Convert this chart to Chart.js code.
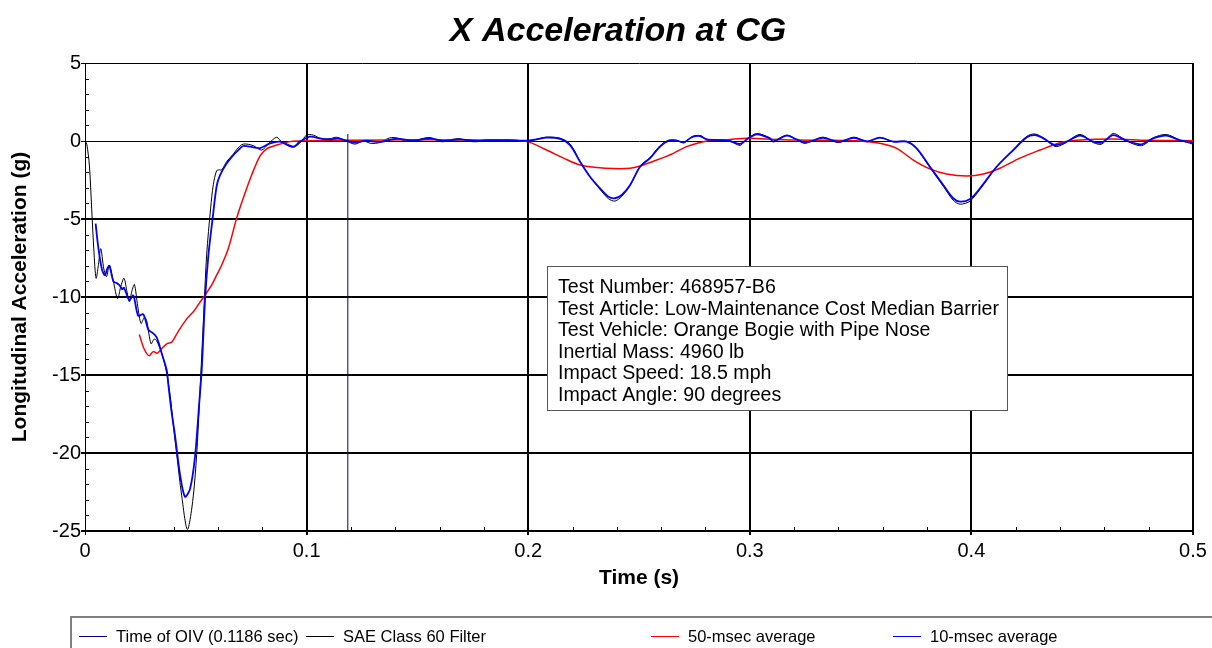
<!DOCTYPE html>
<html>
<head>
<meta charset="utf-8">
<script src="https://cdn.jsdelivr.net/npm/chart.js@4"></script>
<style>
  html, body { margin: 0; padding: 0; background: #fff; }
  #wrap { width: 1212px; height: 648px; }
</style>
</head>
<body>
<div id="wrap"><canvas id="accelChart"></canvas></div>
<script>
const chartTitle = 'X Acceleration at CG';
const xTitle = 'Time (s)';
const yTitle = 'Longitudinal Acceleration (g)';

const seriesLabels = ['Time of OIV (0.1186 sec)', 'SAE Class 60 Filter', '50-msec average', '10-msec average'];

const infoLines = [
    'Test Number: 468957-B6',
    'Test Article: Low-Maintenance Cost Median Barrier',
    'Test Vehicle: Orange Bogie with Pipe Nose',
    'Inertial Mass: 4960 lb',
    'Impact Speed: 18.5 mph',
    'Impact Angle: 90 degrees'
];

// vertical marker for time of OIV
const oivTime = [0.1186, 0.1186];
const oivAccel = [-25, 0.45];

// SAE class 60 filtered signal
const sae60Time = [0, 0.0008, 0.002, 0.003, 0.004, 0.005, 0.006, 0.0071, 0.0085, 0.0097, 0.011, 0.0128, 0.0147,
    0.0162, 0.0176, 0.019, 0.02, 0.0212, 0.0223, 0.0238, 0.0253, 0.0268, 0.0278, 0.0298, 0.0312, 0.0323, 0.0346,
    0.0366, 0.0384, 0.04, 0.0414, 0.0436, 0.0462, 0.0486, 0.0504, 0.0516, 0.0534, 0.0549, 0.0567, 0.0579, 0.0594,
    0.0605, 0.0617, 0.064, 0.0669, 0.0684, 0.0714, 0.076, 0.0797, 0.083, 0.0865, 0.089, 0.094, 0.0975, 0.1, 0.103,
    0.1065, 0.1106, 0.1136, 0.118, 0.1218, 0.1255, 0.129, 0.133, 0.1375, 0.1406, 0.1445, 0.148, 0.152, 0.1557,
    0.1595, 0.1617, 0.1655, 0.169, 0.173, 0.1768, 0.181, 0.185, 0.19, 0.195, 0.1993, 0.2038, 0.2083, 0.2144, 0.2189,
    0.2234, 0.2279, 0.2324, 0.2362, 0.2392, 0.2422, 0.246, 0.2505, 0.255, 0.2595, 0.2632, 0.267, 0.2703, 0.2738,
    0.2775, 0.2806, 0.2866, 0.291, 0.2956, 0.2986, 0.3031, 0.3091, 0.3106, 0.3167, 0.3212, 0.325, 0.333, 0.34,
    0.347, 0.353, 0.3587, 0.3648, 0.3708, 0.3753, 0.3813, 0.3873, 0.3918, 0.3949, 0.3994, 0.4039, 0.4114, 0.4189,
    0.425, 0.4287, 0.4325, 0.4377, 0.4415, 0.449, 0.455, 0.4588, 0.464, 0.47, 0.4768, 0.482, 0.488, 0.494, 0.5];
const sae60Accel = [0, -0.2, -1.6, -4.3, -7.0, -8.8, -8.0, -6.9, -8.2, -8.7, -7.95, -9.0, -10.1,
    -9.3, -8.8, -9.7, -10.3, -9.6, -9.2, -10.6, -11.7, -11.3, -11.5, -13.0, -12.7, -12.8, -13.6,
    -14.7, -16.3, -18.4, -20.1, -22.7, -24.9, -23.1, -20.1, -16.9, -11.6, -7.3, -4.3, -2.8, -1.9,
    -1.85, -1.85, -1.3, -0.85, -0.55, -0.2, -0.3, -0.58, -0.15, 0.24, -0.1, -0.4, -0.05, 0.38, 0.38,
    0.15, 0.15, 0.24, 0.0, -0.2, 0.0, -0.15, -0.1, 0.2, 0.2, 0.0, 0.0, 0.15, 0.22,
    0.0, -0.05, 0.1, 0.15, 0.0, -0.05, 0.1, 0.05, 0.08, 0.05, 0.0, 0.12, 0.25, 0.18, -0.2,
    -1.3, -2.3, -3.1, -3.7, -3.85, -3.55, -2.85, -1.6, -1.05, -0.3, 0.05, 0.05, -0.12, 0.28,
    0.35, 0.1, 0.06, 0.0, -0.28, 0.1, 0.48, 0.2, 0.0, 0.38, 0.08, -0.15, 0.25, -0.1,
    0.25, -0.05, 0.22, -0.05, -0.02, -0.5, -1.7, -2.9, -3.8, -4.05, -3.85, -3.1, -1.65, -0.55,
    0.3, 0.45, 0.2, -0.35, -0.2, 0.42, -0.1, -0.2, 0.48, 0.0, -0.3, 0.2, 0.42, 0.05, -0.2];

// 50-msec moving average
const avg50Time = [0.0245, 0.0266, 0.0289, 0.0308, 0.0326, 0.0346, 0.0372, 0.0391, 0.0421, 0.0459, 0.0489, 0.0511,
    0.0542, 0.0572, 0.0594, 0.0617, 0.0647, 0.0684, 0.0714, 0.0752, 0.079, 0.082, 0.0865, 0.0925, 0.1, 0.12, 0.15,
    0.178, 0.1993, 0.2083, 0.216, 0.2234, 0.231, 0.2384, 0.246, 0.2505, 0.258, 0.2655, 0.2715, 0.2806, 0.291,
    0.2986, 0.3076, 0.321, 0.335, 0.35, 0.3587, 0.3663, 0.3738, 0.3813, 0.3888, 0.3979, 0.4054, 0.4129, 0.4219,
    0.431, 0.44, 0.449, 0.464, 0.479, 0.5];
const avg50Accel = [-12.4, -13.3, -13.76, -13.5, -13.6, -13.3, -12.97, -12.9, -12.2, -11.4, -10.94, -10.5,
    -9.87, -9.23, -8.6, -7.95, -6.88, -4.96, -3.67, -2.18, -0.95, -0.5, -0.26, -0.04, 0.02, 0.05, 0.08,
    0.06, -0.04, -0.58, -1.1, -1.54, -1.7, -1.77, -1.75, -1.6, -1.22, -0.79, -0.36, 0.0, 0.1,
    0.17, 0.13, 0.06, 0.05, 0.0, -0.15, -0.47, -1.22, -1.79, -2.12, -2.24, -2.12, -1.75, -1.1,
    -0.58, -0.11, 0.06, 0.13, 0.05, 0.02];

// 10-msec moving average
const avg10Time = [0.0048, 0.0058, 0.0068, 0.0078, 0.009, 0.01, 0.011, 0.0128, 0.0142, 0.0155, 0.0168, 0.0176,
    0.02, 0.0218, 0.024, 0.0263, 0.0286, 0.0305, 0.0324, 0.0346, 0.0369, 0.0376, 0.0391, 0.0406, 0.0429, 0.0451,
    0.0474, 0.0496, 0.0516, 0.0527, 0.0542, 0.0557, 0.0576, 0.0594, 0.0609, 0.0639, 0.0669, 0.0692, 0.0714,
    0.0745, 0.079, 0.0835, 0.088, 0.094, 0.097, 0.1015, 0.106, 0.1106, 0.1143, 0.118, 0.1218, 0.127, 0.133,
    0.1406, 0.148, 0.1557, 0.1617, 0.169, 0.1768, 0.185, 0.1993, 0.2038, 0.2083, 0.2144, 0.2189, 0.2234,
    0.2279, 0.2324, 0.2362, 0.2392, 0.2422, 0.246, 0.2505, 0.255, 0.2595, 0.2632, 0.267, 0.2703, 0.2738, 0.2775,
    0.2806, 0.2866, 0.291, 0.2956, 0.2986, 0.3031, 0.3091, 0.3106, 0.3167, 0.3212, 0.325, 0.333, 0.34, 0.347,
    0.353, 0.3587, 0.3648, 0.3708, 0.3753, 0.3813, 0.3873, 0.3918, 0.3949, 0.3994, 0.4039, 0.4114, 0.4189,
    0.425, 0.4287, 0.4325, 0.4377, 0.4415, 0.449, 0.455, 0.4588, 0.464, 0.47, 0.4768, 0.482, 0.488, 0.494, 0.5];
const avg10Accel = [-5.3, -6.6, -7.6, -8.3, -8.6, -8.2, -8.0, -9.0, -9.1, -9.23, -9.5, -9.4,
    -10.2, -9.9, -11.2, -11.1, -12.1, -12.3, -12.6, -13.6, -14.7, -15.6, -17.4, -18.85, -21.4, -22.8,
    -22.3, -20.3, -16.7, -14.6, -10.1, -7.3, -4.96, -2.9, -2.2, -1.45, -0.9, -0.58, -0.32,
    -0.36, -0.45, -0.15, -0.04, -0.36, -0.04, 0.28, 0.17, 0.1, 0.17, 0.02, -0.11, 0.02, -0.06,
    0.15, 0.02, 0.17, 0.0, 0.1, 0.0, 0.05, 0.02, 0.1, 0.21, 0.13, -0.26, -1.33,
    -2.29, -3.03, -3.57, -3.67, -3.46, -2.82, -1.65, -1.1, -0.36, 0.0, 0.02, -0.08, 0.24, 0.32,
    0.1, 0.06, 0.0, -0.19, 0.1, 0.43, 0.17, -0.04, 0.34, 0.1, -0.1, 0.2, -0.06, 0.2,
    -0.02, 0.21, -0.04, -0.04, -0.47, -1.65, -2.82, -3.67, -3.89, -3.72, -3.03, -1.65, -0.58,
    0.24, 0.38, 0.17, -0.26, -0.15, 0.34, -0.04, -0.11, 0.38, 0.02, -0.21, 0.17, 0.34, 0.06, -0.11];

const toPoints = (xs, ys) => xs.map((x, i) => ({ x: x, y: ys[i] }));

const FONT = '"Liberation Sans", Arial, sans-serif';

// title, minor ticks, info box and legend drawn on the canvas
const extrasPlugin = {
    id: 'extras',
    afterDraw(chart) {
        const ctx = chart.ctx;
        const xs = chart.scales.x;
        const ys = chart.scales.y;
        ctx.save();

        // title
        ctx.fillStyle = '#000';
        ctx.font = 'italic bold 34px ' + FONT;
        ctx.textAlign = 'center';
        ctx.textBaseline = 'alphabetic';
        ctx.fillText(chartTitle, 618, 41);

        // minor ticks, pointing into the plot
        ctx.strokeStyle = '#000';
        ctx.lineWidth = 1;
        ctx.beginPath();
        for (let v = -24; v < 5; v++) {
            if (v % 5 === 0) continue;
            const py = Math.round(ys.getPixelForValue(v)) + 0.5;
            ctx.moveTo(xs.left, py);
            ctx.lineTo(xs.left + 4, py);
        }
        for (let k = 1; k < 25; k++) {
            if (k % 5 === 0) continue;
            const px = Math.round(xs.getPixelForValue(k * 0.02)) + 0.5;
            ctx.moveTo(px, ys.bottom);
            ctx.lineTo(px, ys.bottom - 4);
        }
        ctx.stroke();

        // info box
        ctx.fillStyle = '#fff';
        ctx.fillRect(547, 266, 460, 145);
        ctx.strokeStyle = '#555';
        ctx.strokeRect(547.5, 266.5, 460, 144);
        ctx.fillStyle = '#000';
        ctx.font = '19.6px ' + FONT;
        ctx.textAlign = 'left';
        ctx.textBaseline = 'middle';
        infoLines.forEach((line, i) => {
            ctx.fillText(line, 558, 288 + i * 21.5);
        });

        // legend box
        ctx.strokeStyle = '#808080';
        ctx.lineWidth = 2;
        ctx.strokeRect(71, 617, 1160, 40);
        const legendX = [79, 306, 651, 893];
        ctx.font = '16.5px ' + FONT;
        chart.data.datasets.forEach((ds, i) => {
            const lx = legendX[i];
            ctx.strokeStyle = ds.borderColor;
            ctx.lineWidth = 1;
            ctx.beginPath();
            ctx.moveTo(lx, 636.5);
            ctx.lineTo(lx + 28, 636.5);
            ctx.stroke();
            ctx.fillStyle = '#000';
            ctx.fillText(ds.label, lx + 37, 637);
        });
        ctx.restore();
    }
};

const ctxAccel = document.getElementById('accelChart').getContext('2d');

const accelChart = new Chart(ctxAccel, {
    type: 'line',
    data: {
        datasets: [
            {
                label: seriesLabels[0],
                data: toPoints(oivTime, oivAccel),
                borderColor: '#000080',
                borderWidth: 1,
                pointRadius: 0,
                tension: 0,
                order: 0
            },
            {
                label: seriesLabels[1],
                data: toPoints(sae60Time, sae60Accel),
                borderColor: '#000000',
                borderWidth: 1,
                pointRadius: 0,
                tension: 0.3,
                order: 3
            },
            {
                label: seriesLabels[2],
                data: toPoints(avg50Time, avg50Accel),
                borderColor: '#ff0000',
                borderWidth: 1.5,
                pointRadius: 0,
                tension: 0.3,
                order: 2
            },
            {
                label: seriesLabels[3],
                data: toPoints(avg10Time, avg10Accel),
                borderColor: '#0000ff',
                borderWidth: 1.8,
                pointRadius: 0,
                tension: 0.3,
                order: 1
            }
        ]
    },
    options: {
        responsive: true,
        maintainAspectRatio: false,
        animation: false,
        layout: {
            padding: { top: 63, right: 19, bottom: 55, left: 0 }
        },
        plugins: {
            legend: { display: false },
            title: { display: false },
            tooltip: { enabled: false }
        },
        scales: {
            x: {
                type: 'linear',
                min: 0,
                max: 0.5,
                afterFit: (s) => { s.height = 62; },
                ticks: {
                    stepSize: 0.1,
                    color: '#000',
                    font: { family: FONT, size: 20 },
                    padding: 4,
                    maxRotation: 0,
                    callback: (v) => String(Math.round(v * 10) / 10)
                },
                grid: {
                    color: '#000',
                    lineWidth: (c) => (c.tick && c.tick.value === 0 ? 1 : 2),
                    tickLength: 4
                },
                border: { display: true, color: '#000', width: 1 },
                title: {
                    display: true,
                    text: xTitle,
                    color: '#000',
                    font: { family: FONT, size: 21, weight: 'bold' },
                    padding: { top: 0, bottom: 2.4 }
                }
            },
            y: {
                min: -25,
                max: 5,
                afterFit: (s) => { s.width = 85; },
                ticks: {
                    stepSize: 5,
                    color: '#000',
                    font: { family: FONT, size: 20 },
                    padding: 0
                },
                grid: {
                    color: '#000',
                    lineWidth: (c) => (c.tick && (c.tick.value === 0 || c.tick.value === 5) ? 1 : 2),
                    tickLength: 4
                },
                border: { display: true, color: '#000', width: 1 },
                title: {
                    display: true,
                    text: yTitle,
                    color: '#000',
                    font: { family: FONT, size: 21, weight: 'bold' },
                    padding: { top: 7.4, bottom: 0 }
                }
            }
        }
    },
    plugins: [extrasPlugin]
});
</script>
</body>
</html>
